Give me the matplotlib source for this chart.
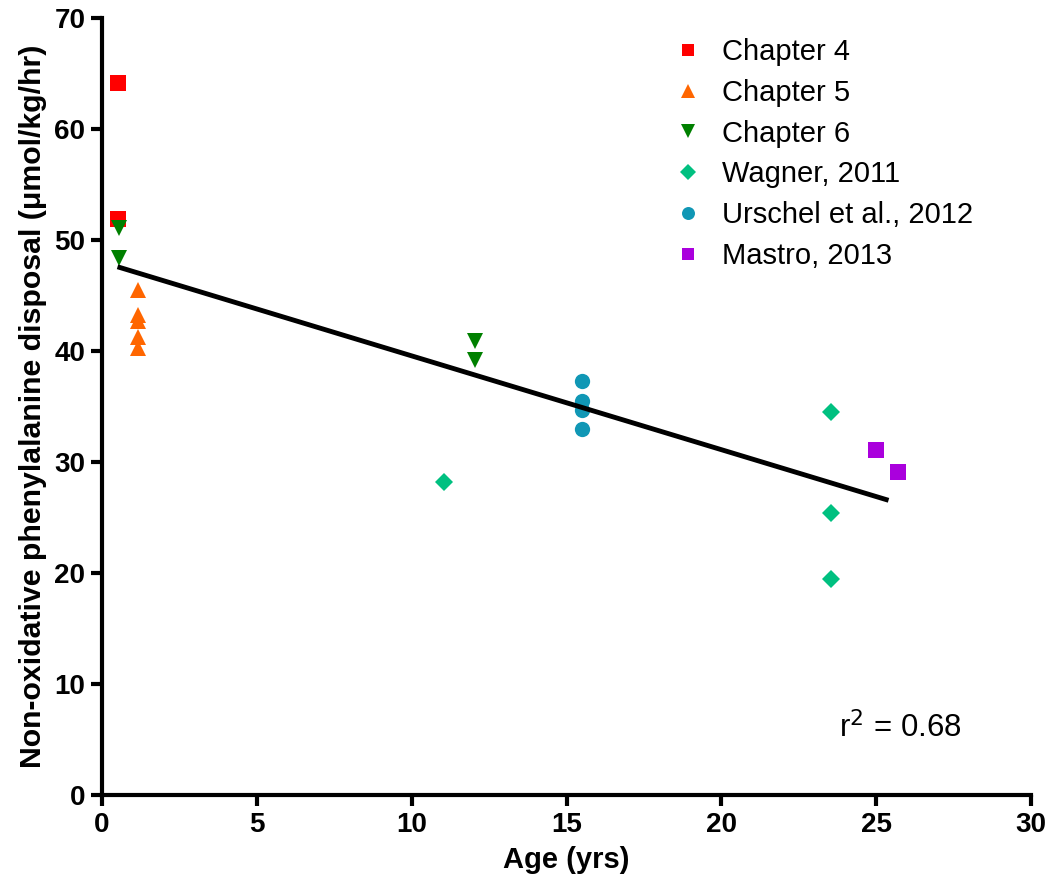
import numpy as np
import matplotlib
matplotlib.use("Agg")
import matplotlib.pyplot as plt

# data
ch4_x = [0.5, 0.5]
ch4_y = [64.1, 51.9]
ch5_x = [1.15, 1.15, 1.15, 1.15, 1.15]
ch5_y = [45.5, 43.2, 42.7, 41.3, 40.3]
ch6_x = [0.55, 0.55, 12.05, 12.05]
ch6_y = [51.1, 48.4, 40.9, 39.2]
wag_x = [11.05, 23.55, 23.55, 23.55]
wag_y = [28.2, 34.5, 25.4, 19.5]
urs_x = [15.5, 15.5, 15.5, 15.5]
urs_y = [37.3, 35.5, 34.7, 33.0]
mas_x = [25.0, 25.7]
mas_y = [31.1, 29.1]

series = [
    ("Chapter 4", ch4_x, ch4_y, "s", "#ff0000", 11),
    ("Chapter 5", ch5_x, ch5_y, "^", "#ff6600", 12),
    ("Chapter 6", ch6_x, ch6_y, "v", "#008000", 12),
    ("Wagner, 2011", wag_x, wag_y, "D", "#00c080", 9.5),
    ("Urschel et al., 2012", urs_x, urs_y, "o", "#1097b5", 11),
    ("Mastro, 2013", mas_x, mas_y, "s", "#aa00dd", 11),
]

plt.rcParams["font.family"] = ["Liberation Sans", "DejaVu Sans"]

fig = plt.figure(figsize=(10.52, 8.84), dpi=100)
ax = fig.add_axes([0.097, 0.1007, 0.883, 0.879])

for name, xs, ys, m, c, s in series:
    ax.plot(xs, ys, linestyle="none", marker=m, color=c, markersize=s,
            markeredgewidth=0, label=name, clip_on=False)

# regression line across all points
all_x = np.concatenate([np.array(s[1]) for s in series])
all_y = np.concatenate([np.array(s[2]) for s in series])
k, b = np.polyfit(all_x, all_y, 1)
lx = np.array([all_x.min(), 25.4])
ax.plot(lx, k * lx + b, color="black", linewidth=3.5, solid_capstyle="butt")

ax.set_xlim(0, 30)
ax.set_ylim(0, 70)
ax.set_xticks(range(0, 31, 5))
ax.set_yticks(range(0, 71, 10))
for sp in ["top", "right"]:
    ax.spines[sp].set_visible(False)
for sp in ["left", "bottom"]:
    ax.spines[sp].set_linewidth(3)
ax.tick_params(direction="out", length=8, width=3, pad=4)
for lab in ax.get_xticklabels() + ax.get_yticklabels():
    lab.set_fontweight("bold")
    lab.set_fontsize(20)

ax.set_xlabel("Age (yrs)", fontweight="bold", fontsize=21, labelpad=6)
ax.set_ylabel("Non-oxidative phenylalanine disposal (\u03bcmol/kg/hr)",
              fontweight="bold", fontsize=21.8, labelpad=5)

ax.text(0.925, 0.065, "r$^2$ = 0.68", transform=ax.transAxes, fontsize=22.5,
        ha="right", va="bottom")

leg = ax.legend(loc="upper left", bbox_to_anchor=(0.584, 1.008), frameon=False,
                fontsize=21, handletextpad=0.55, labelspacing=0.44,
                handlelength=1.2, markerscale=0.85)

fig.savefig("out.png", dpi=100)
